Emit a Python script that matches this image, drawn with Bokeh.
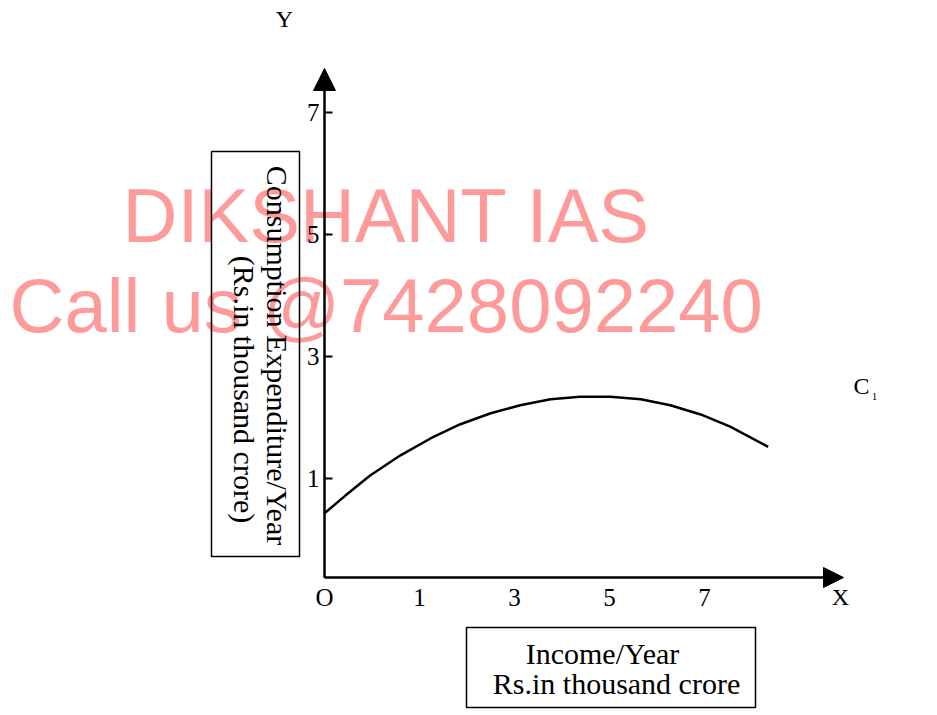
import math
from bokeh.plotting import figure
from bokeh.models import Range1d, FixedTicker, Label, BoxAnnotation, Arrow, NormalHead
from bokeh.embed import file_html
from bokeh.resources import INLINE

# ---------------- data ----------------
# x positions are in axis-label slots: slot 0 = "O", 1 = "1", 2 = "3", 3 = "5", 4 = "7"
income_pos = [0.0, 0.22, 0.48, 0.80, 1.12, 1.43, 1.75, 2.06, 2.38, 2.69,
              3.01, 3.33, 3.64, 3.96, 4.27, 4.67]
consumption = [0.43, 0.72, 1.05, 1.38, 1.66, 1.89, 2.07, 2.20, 2.30, 2.34,
               2.34, 2.30, 2.20, 2.05, 1.85, 1.52]
x_tick_pos = [0, 1, 2, 3, 4]
x_tick_labels = ["O", "1", "3", "5", "7"]
y_ticks = [1, 3, 5, 7]

# ---------------- layout helpers ----------------
W, H = 937, 715
X0 = 324   # canvas px of x slot 0
XS = 95    # px per x slot
Y1 = 478   # canvas px of y = 1
YS = 61    # px per y unit


def dx(px):
    return (px - X0) / XS


def dy(py):
    return 1 + (Y1 - py) / YS


def sy(page_y):
    return H - page_y


SERIF = "Liberation Serif"
SANS = "Liberation Sans"

p = figure(width=W, height=H,
           x_range=Range1d(dx(0), dx(W)), y_range=Range1d(dy(H), dy(0)),
           output_backend="svg", toolbar_location=None, min_border=0)
p.outline_line_color = None
p.grid.visible = False
p.background_fill_color = "white"
p.border_fill_color = "white"

x_axis_y = dy(577)

# x axis
xa = p.xaxis[0]
xa.fixed_location = x_axis_y
xa.ticker = FixedTicker(ticks=x_tick_pos)
xa.major_label_overrides = {t: l for t, l in zip(x_tick_pos, x_tick_labels)}
xa.major_tick_in = 0
xa.major_tick_out = 0
xa.minor_tick_line_color = None
xa.axis_line_width = 2
xa.axis_line_color = "black"
xa.bounds = (0, dx(825))
xa.major_label_text_font = SERIF
xa.major_label_text_font_size = "25px"
xa.major_label_text_color = "black"
xa.major_label_standoff = 6

# y axis
ya = p.yaxis[0]
ya.fixed_location = 0
ya.ticker = FixedTicker(ticks=y_ticks)
ya.major_tick_in = 8
ya.major_tick_out = 0
ya.major_tick_line_width = 2
ya.major_tick_line_color = "black"
ya.minor_tick_line_color = None
ya.axis_line_width = 2
ya.axis_line_color = "black"
ya.bounds = (x_axis_y, dy(90))
ya.major_label_text_font = SERIF
ya.major_label_text_font_size = "25px"
ya.major_label_text_color = "black"
ya.major_label_standoff = 5

# arrows
p.add_layout(Arrow(end=NormalHead(size=22, fill_color="black", line_color="black"),
                   x_start=0, y_start=x_axis_y, x_end=0, y_end=dy(68),
                   line_width=2, line_color="black"))
p.add_layout(Arrow(end=NormalHead(size=20, fill_color="black", line_color="black"),
                   x_start=0, y_start=x_axis_y, x_end=dx(843), y_end=x_axis_y,
                   line_width=2, line_color="black"))

# curve
p.line(income_pos, consumption, line_width=2.5, line_color="black")


def lab(text, page_x, page_y, size, font=SERIF, align="center", baseline="middle",
        angle=0.0, color="black", level="annotation"):
    p.add_layout(Label(x=page_x, y=sy(page_y), x_units="screen", y_units="screen",
                       text=text, text_font=font, text_font_size=size,
                       text_align=align, text_baseline=baseline, angle=angle,
                       text_color=color, level=level))


def box(left, top, right, bottom):
    p.add_layout(BoxAnnotation(left=left, right=right, top=sy(top), bottom=sy(bottom),
                               left_units="screen", right_units="screen",
                               top_units="screen", bottom_units="screen",
                               fill_color=None, fill_alpha=0,
                               line_color="black", line_alpha=1.0, line_width=1.5,
                               level="annotation"))


# watermark (behind)
lab("DIKSHANT IAS", 122, 215, "76px", font=SANS, align="left",
    color="#ff9a9a", level="underlay")
lab("Call us @7428092240", 9, 305, "76px", font=SANS, align="left",
    color="#ff9a9a", level="underlay")

# axis letters
lab("Y", 284, 18, "24px")
lab("X", 840, 596, "24px")
lab("C", 861, 385, "24px")
lab("1", 874, 396, "11px")

# y-axis title box
box(211, 151, 299, 556)
lab("Consumption Expenditure/Year", 277, 355, "30px", angle=-math.pi / 2)
lab("(Rs.in thousand crore)", 244, 389, "30px", angle=-math.pi / 2)

# x-axis title box
box(466, 627, 755, 707)
lab("Income/Year", 602, 653, "30px")
lab("Rs.in thousand crore", 616, 683, "30px")

open("out.html", "w").write(file_html(p, INLINE))
